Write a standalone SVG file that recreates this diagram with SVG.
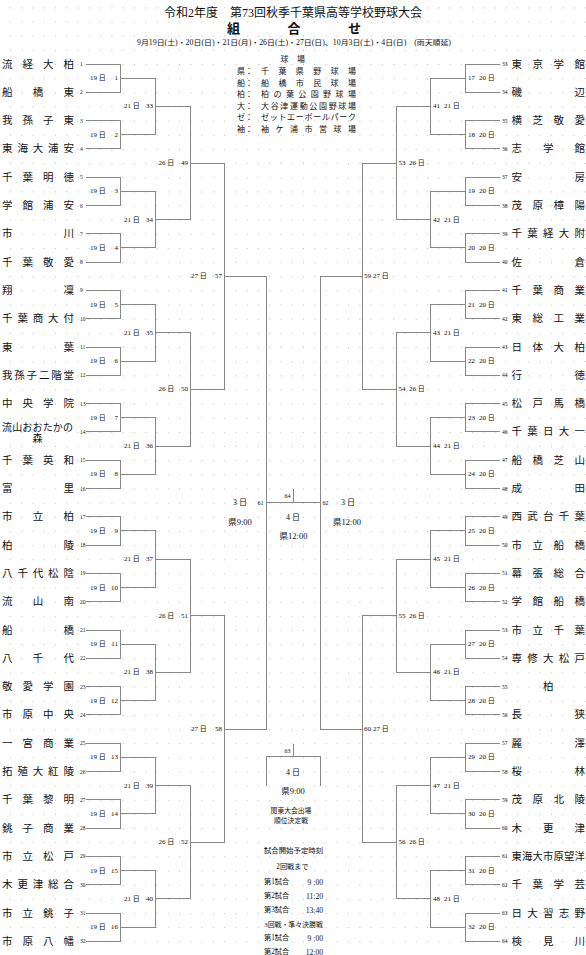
<svg xmlns="http://www.w3.org/2000/svg" width="586" height="955" viewBox="0 0 586 955">
<style>
text{font-family:"Liberation Serif","Noto Sans CJK JP",serif;dominant-baseline:central;fill:#111}
.nm{font-size:10.5px}
.tn{font-size:5.5px}
.lb{font-size:7px}
.e{text-anchor:end}
.c{text-anchor:middle}
.lg{font-size:8px}
.ln{fill:none;stroke:#888;stroke-width:1;shape-rendering:crispEdges}
</style>
<defs>
<pattern id="dots" x="10" y="7.4" width="11.27" height="14.15" patternUnits="userSpaceOnUse"><rect width="1" height="1" fill="#b8b8b8"/></pattern>
</defs>
<rect width="586" height="955" fill="#fff"/>
<rect width="586" height="955" fill="url(#dots)"/>

<g id="header">
<text class="c" x="293" y="13" style="font-size:12px">令和2年度　第73回秋季千葉県高等学校野球大会</text>
<text x="227 287.5 348" y="28" style="font-size:13px;font-weight:bold">組合せ</text>
<text x="137" y="43" textLength="314" lengthAdjust="spacingAndGlyphs" style="font-size:7.2px">9月19日(土)・20日(日)・21日(月)・26日(土)・27日(日)、10月3日(土)・4日(日)　(雨天順延)</text>
</g>

<g id="legend" class="lg">
<text class="lg" x="280.5 297" y="59.5">球場</text>
<text class="lg" x="237 245" y="71.5">県：</text><text class="lg" x="261 278.4 295.8 313.2 330.6 348" y="71.5">千葉県野球場</text>
<text class="lg" x="237 245" y="83">船：</text><text class="lg" x="261 278.4 295.8 313.2 330.6 348" y="83">船橋市民球場</text>
<text class="lg" x="237 245" y="94.5">柏：</text><text class="lg" x="261 273.4 285.9 298.3 310.7 323.1 335.6 348" y="94.5">柏の葉公園野球場</text>
<text class="lg" x="237 245" y="106">大：</text><text class="lg" x="261 270.7 280.3 290 299.7 309.3 319 328.7 338.3 348" y="106">大谷津運動公園野球場</text>
<text class="lg" x="237 245" y="117.5">ゼ：</text><text class="lg" x="261 269.7 278.4 287.1 295.8 304.5 313.2 321.9 330.6 339.3 348" y="117.5">ゼットエーボールパーク</text>
<text class="lg" x="237 245" y="129">袖：</text><text class="lg" x="261 275.5 290 304.5 319 333.5 348" y="129">袖ケ浦市営球場</text>
</g>

<g id="connectors">
<path class="ln" d="M86 64H120.5V92.3H86M86 120.6H120.5V148.9H86M86 177.2H120.5V205.5H86M86 233.8H120.5V262.1H86M86 290.4H120.5V318.7H86M86 347H120.5V375.3H86M86 403.6H120.5V431.9H86M86 460.2H120.5V488.5H86M86 516.8H120.5V545.1H86M86 573.4H120.5V601.7H86M86 630H120.5V658.3H86M86 686.6H120.5V714.9H86M86 743.2H120.5V771.5H86M86 799.8H120.5V828.1H86M86 856.4H120.5V884.7H86M86 913H120.5V941.3H86"/>
<path class="ln" d="M120.5 78.15H155.5V134.75H120.5M120.5 191.35H155.5V247.95H120.5M120.5 304.55H155.5V361.15H120.5M120.5 417.75H155.5V474.35H120.5M120.5 530.95H155.5V587.55H120.5M120.5 644.15H155.5V700.75H120.5M120.5 757.35H155.5V813.95H120.5M120.5 870.55H155.5V927.15H120.5"/>
<path class="ln" d="M155.5 106.45H190V219.65H155.5M155.5 332.85H190V446.05H155.5M155.5 559.25H190V672.45H155.5M155.5 785.65H190V898.85H155.5"/>
<path class="ln" d="M190 163.05H224V389.45H190M190 615.85H224V842.25H190"/>
<path class="ln" d="M224 276.25H266V729.05H224"/>
<path class="ln" d="M500 64H465.5V92.3H500M500 120.6H465.5V148.9H500M500 177.2H465.5V205.5H500M500 233.8H465.5V262.1H500M500 290.4H465.5V318.7H500M500 347H465.5V375.3H500M500 403.6H465.5V431.9H500M500 460.2H465.5V488.5H500M500 516.8H465.5V545.1H500M500 573.4H465.5V601.7H500M500 630H465.5V658.3H500M500 686.6H465.5V714.9H500M500 743.2H465.5V771.5H500M500 799.8H465.5V828.1H500M500 856.4H465.5V884.7H500M500 913H465.5V941.3H500"/>
<path class="ln" d="M465.5 78.15H430.5V134.75H465.5M465.5 191.35H430.5V247.95H465.5M465.5 304.55H430.5V361.15H465.5M465.5 417.75H430.5V474.35H465.5M465.5 530.95H430.5V587.55H465.5M465.5 644.15H430.5V700.75H465.5M465.5 757.35H430.5V813.95H465.5M465.5 870.55H430.5V927.15H465.5"/>
<path class="ln" d="M430.5 106.45H396V219.65H430.5M430.5 332.85H396V446.05H430.5M430.5 559.25H396V672.45H430.5M430.5 785.65H396V898.85H430.5"/>
<path class="ln" d="M396 163.05H362V389.45H396M396 615.85H362V842.25H396"/>
<path class="ln" d="M362 276.25H320V729.05H362"/>
<path class="ln" d="M266 502.65H320M293 488.5V502.65"/>
<path class="ln" d="M266 786V756.7H320V786M293 743.5V756.7"/>
</g>

<g id="teams-left">
<g id="t1"><text class="nm" x="2 22.5 43 63.5" y="64">流経大柏</text><text class="tn" x="80" y="64">1</text></g>
<g id="t2"><text class="nm" x="2 32.75 63.5" y="92.3">船橋東</text><text class="tn" x="80" y="92.3">2</text></g>
<g id="t3"><text class="nm" x="2 22.5 43 63.5" y="120.6">我孫子東</text><text class="tn" x="80" y="120.6">3</text></g>
<g id="t4"><text class="nm" x="2 17.4 32.75 48.1 63.5" y="148.9">東海大浦安</text><text class="tn" x="80" y="148.9">4</text></g>
<g id="t5"><text class="nm" x="2 22.5 43 63.5" y="177.2">千葉明徳</text><text class="tn" x="80" y="177.2">5</text></g>
<g id="t6"><text class="nm" x="2 22.5 43 63.5" y="205.5">学館浦安</text><text class="tn" x="80" y="205.5">6</text></g>
<g id="t7"><text class="nm" x="2 63.5" y="233.8">市川</text><text class="tn" x="80" y="233.8">7</text></g>
<g id="t8"><text class="nm" x="2 22.5 43 63.5" y="262.1">千葉敬愛</text><text class="tn" x="80" y="262.1">8</text></g>
<g id="t9"><text class="nm" x="2 63.5" y="290.4">翔凜</text><text class="tn" x="80" y="290.4">9</text></g>
<g id="t10"><text class="nm" x="2 17.4 32.75 48.1 63.5" y="318.7">千葉商大付</text><text class="tn" x="80" y="318.7">10</text></g>
<g id="t11"><text class="nm" x="2 63.5" y="347">東葉</text><text class="tn" x="80" y="347">11</text></g>
<g id="t12"><text class="nm" x="2 14.3 26.6 38.9 51.2 63.5" y="375.3">我孫子二階堂</text><text class="tn" x="80" y="375.3">12</text></g>
<g id="t13"><text class="nm" x="2 22.5 43 63.5" y="403.6">中央学院</text><text class="tn" x="80" y="403.6">13</text></g>
<g id="t14"><text class="nm" style="font-size:10px" x="2 12.2 22.3 32.5 42.7 52.8 63" y="427">流山おおたかの</text><text class="nm" style="font-size:10px" x="32.5" y="438.5">森</text><text class="tn" x="80" y="431.9">14</text></g>
<g id="t15"><text class="nm" x="2 22.5 43 63.5" y="460.2">千葉英和</text><text class="tn" x="80" y="460.2">15</text></g>
<g id="t16"><text class="nm" x="2 63.5" y="488.5">富里</text><text class="tn" x="80" y="488.5">16</text></g>
<g id="t17"><text class="nm" x="2 32.75 63.5" y="516.8">市立柏</text><text class="tn" x="80" y="516.8">17</text></g>
<g id="t18"><text class="nm" x="2 63.5" y="545.1">柏陵</text><text class="tn" x="80" y="545.1">18</text></g>
<g id="t19"><text class="nm" x="2 17.4 32.75 48.1 63.5" y="573.4">八千代松陰</text><text class="tn" x="80" y="573.4">19</text></g>
<g id="t20"><text class="nm" x="2 32.75 63.5" y="601.7">流山南</text><text class="tn" x="80" y="601.7">20</text></g>
<g id="t21"><text class="nm" x="2 63.5" y="630">船橋</text><text class="tn" x="80" y="630">21</text></g>
<g id="t22"><text class="nm" x="2 32.75 63.5" y="658.3">八千代</text><text class="tn" x="80" y="658.3">22</text></g>
<g id="t23"><text class="nm" x="2 22.5 43 63.5" y="686.6">敬愛学園</text><text class="tn" x="80" y="686.6">23</text></g>
<g id="t24"><text class="nm" x="2 22.5 43 63.5" y="714.9">市原中央</text><text class="tn" x="80" y="714.9">24</text></g>
<g id="t25"><text class="nm" x="2 22.5 43 63.5" y="743.2">一宮商業</text><text class="tn" x="80" y="743.2">25</text></g>
<g id="t26"><text class="nm" x="2 17.4 32.75 48.1 63.5" y="771.5">拓殖大紅陵</text><text class="tn" x="80" y="771.5">26</text></g>
<g id="t27"><text class="nm" x="2 22.5 43 63.5" y="799.8">千葉黎明</text><text class="tn" x="80" y="799.8">27</text></g>
<g id="t28"><text class="nm" x="2 22.5 43 63.5" y="828.1">銚子商業</text><text class="tn" x="80" y="828.1">28</text></g>
<g id="t29"><text class="nm" x="2 22.5 43 63.5" y="856.4">市立松戸</text><text class="tn" x="80" y="856.4">29</text></g>
<g id="t30"><text class="nm" x="2 17.4 32.75 48.1 63.5" y="884.7">木更津総合</text><text class="tn" x="80" y="884.7">30</text></g>
<g id="t31"><text class="nm" x="2 22.5 43 63.5" y="913">市立銚子</text><text class="tn" x="80" y="913">31</text></g>
<g id="t32"><text class="nm" x="2 22.5 43 63.5" y="941.3">市原八幡</text><text class="tn" x="80" y="941.3">32</text></g>
</g>

<g id="teams-right">
<g id="t33"><text class="nm" x="511.5 532.5 553.5 574.5" y="64">東京学館</text><text class="tn" x="502" y="64">33</text></g>
<g id="t34"><text class="nm" x="511.5 574.5" y="92.3">磯辺</text><text class="tn" x="502" y="92.3">34</text></g>
<g id="t35"><text class="nm" x="511.5 532.5 553.5 574.5" y="120.6">横芝敬愛</text><text class="tn" x="502" y="120.6">35</text></g>
<g id="t36"><text class="nm" x="511.5 543 574.5" y="148.9">志学館</text><text class="tn" x="502" y="148.9">36</text></g>
<g id="t37"><text class="nm" x="511.5 574.5" y="177.2">安房</text><text class="tn" x="502" y="177.2">37</text></g>
<g id="t38"><text class="nm" x="511.5 532.5 553.5 574.5" y="205.5">茂原樟陽</text><text class="tn" x="502" y="205.5">38</text></g>
<g id="t39"><text class="nm" x="511.5 527.25 543 558.75 574.5" y="233.8">千葉経大附</text><text class="tn" x="502" y="233.8">39</text></g>
<g id="t40"><text class="nm" x="511.5 574.5" y="262.1">佐倉</text><text class="tn" x="502" y="262.1">40</text></g>
<g id="t41"><text class="nm" x="511.5 532.5 553.5 574.5" y="290.4">千葉商業</text><text class="tn" x="502" y="290.4">41</text></g>
<g id="t42"><text class="nm" x="511.5 532.5 553.5 574.5" y="318.7">東総工業</text><text class="tn" x="502" y="318.7">42</text></g>
<g id="t43"><text class="nm" x="511.5 532.5 553.5 574.5" y="347">日体大柏</text><text class="tn" x="502" y="347">43</text></g>
<g id="t44"><text class="nm" x="511.5 574.5" y="375.3">行徳</text><text class="tn" x="502" y="375.3">44</text></g>
<g id="t45"><text class="nm" x="511.5 532.5 553.5 574.5" y="403.6">松戸馬橋</text><text class="tn" x="502" y="403.6">45</text></g>
<g id="t46"><text class="nm" x="511.5 527.25 543 558.75 574.5" y="431.9">千葉日大一</text><text class="tn" x="502" y="431.9">46</text></g>
<g id="t47"><text class="nm" x="511.5 532.5 553.5 574.5" y="460.2">船橋芝山</text><text class="tn" x="502" y="460.2">47</text></g>
<g id="t48"><text class="nm" x="511.5 574.5" y="488.5">成田</text><text class="tn" x="502" y="488.5">48</text></g>
<g id="t49"><text class="nm" x="511.5 527.25 543 558.75 574.5" y="516.8">西武台千葉</text><text class="tn" x="502" y="516.8">49</text></g>
<g id="t50"><text class="nm" x="511.5 532.5 553.5 574.5" y="545.1">市立船橋</text><text class="tn" x="502" y="545.1">50</text></g>
<g id="t51"><text class="nm" x="511.5 532.5 553.5 574.5" y="573.4">幕張総合</text><text class="tn" x="502" y="573.4">51</text></g>
<g id="t52"><text class="nm" x="511.5 532.5 553.5 574.5" y="601.7">学館船橋</text><text class="tn" x="502" y="601.7">52</text></g>
<g id="t53"><text class="nm" x="511.5 532.5 553.5 574.5" y="630">市立千葉</text><text class="tn" x="502" y="630">53</text></g>
<g id="t54"><text class="nm" x="511.5 527.25 543 558.75 574.5" y="658.3">専修大松戸</text><text class="tn" x="502" y="658.3">54</text></g>
<g id="t55"><text class="nm" x="543" y="686.6">柏</text><text class="tn" x="502" y="686.6">55</text></g>
<g id="t56"><text class="nm" x="511.5 574.5" y="714.9">長狭</text><text class="tn" x="502" y="714.9">56</text></g>
<g id="t57"><text class="nm" x="511.5 574.5" y="743.2">麗澤</text><text class="tn" x="502" y="743.2">57</text></g>
<g id="t58"><text class="nm" x="511.5 574.5" y="771.5">桜林</text><text class="tn" x="502" y="771.5">58</text></g>
<g id="t59"><text class="nm" x="511.5 532.5 553.5 574.5" y="799.8">茂原北陵</text><text class="tn" x="502" y="799.8">59</text></g>
<g id="t60"><text class="nm" x="511.5 543 574.5" y="828.1">木更津</text><text class="tn" x="502" y="828.1">60</text></g>
<g id="t61"><text class="nm" style="font-size:10.3px" x="511.5 522 532.5 543 553.5 564 574.5" y="856.4">東海大市原望洋</text><text class="tn" x="502" y="856.4">61</text></g>
<g id="t62"><text class="nm" x="511.5 532.5 553.5 574.5" y="884.7">千葉学芸</text><text class="tn" x="502" y="884.7">62</text></g>
<g id="t63"><text class="nm" x="511.5 527.25 543 558.75 574.5" y="913">日大習志野</text><text class="tn" x="502" y="913">63</text></g>
<g id="t64"><text class="nm" x="511.5 543 574.5" y="941.3">検見川</text><text class="tn" x="502" y="941.3">64</text></g>
</g>

<g id="matches-left">
<g id="m1"><text class="lb" x="90" y="78.15">19 日</text><text class="lb e" x="118" y="78.15">1</text></g>
<g id="m2"><text class="lb" x="90" y="134.75">19 日</text><text class="lb e" x="118" y="134.75">2</text></g>
<g id="m3"><text class="lb" x="90" y="191.35">19 日</text><text class="lb e" x="118" y="191.35">3</text></g>
<g id="m4"><text class="lb" x="90" y="247.95">19 日</text><text class="lb e" x="118" y="247.95">4</text></g>
<g id="m5"><text class="lb" x="90" y="304.55">19 日</text><text class="lb e" x="118" y="304.55">5</text></g>
<g id="m6"><text class="lb" x="90" y="361.15">19 日</text><text class="lb e" x="118" y="361.15">6</text></g>
<g id="m7"><text class="lb" x="90" y="417.75">19 日</text><text class="lb e" x="118" y="417.75">7</text></g>
<g id="m8"><text class="lb" x="90" y="474.35">19 日</text><text class="lb e" x="118" y="474.35">8</text></g>
<g id="m9"><text class="lb" x="90" y="530.95">19 日</text><text class="lb e" x="118" y="530.95">9</text></g>
<g id="m10"><text class="lb" x="90" y="587.55">19 日</text><text class="lb e" x="118" y="587.55">10</text></g>
<g id="m11"><text class="lb" x="90" y="644.15">19 日</text><text class="lb e" x="118" y="644.15">11</text></g>
<g id="m12"><text class="lb" x="90" y="700.75">19 日</text><text class="lb e" x="118" y="700.75">12</text></g>
<g id="m13"><text class="lb" x="90" y="757.35">19 日</text><text class="lb e" x="118" y="757.35">13</text></g>
<g id="m14"><text class="lb" x="90" y="813.95">19 日</text><text class="lb e" x="118" y="813.95">14</text></g>
<g id="m15"><text class="lb" x="90" y="870.55">19 日</text><text class="lb e" x="118" y="870.55">15</text></g>
<g id="m16"><text class="lb" x="90" y="927.15">19 日</text><text class="lb e" x="118" y="927.15">16</text></g>
<g id="m33"><text class="lb" x="124" y="106.45">21 日</text><text class="lb e" x="153" y="106.45">33</text></g>
<g id="m34"><text class="lb" x="124" y="219.65">21 日</text><text class="lb e" x="153" y="219.65">34</text></g>
<g id="m35"><text class="lb" x="124" y="332.85">21 日</text><text class="lb e" x="153" y="332.85">35</text></g>
<g id="m36"><text class="lb" x="124" y="446.05">21 日</text><text class="lb e" x="153" y="446.05">36</text></g>
<g id="m37"><text class="lb" x="124" y="559.25">21 日</text><text class="lb e" x="153" y="559.25">37</text></g>
<g id="m38"><text class="lb" x="124" y="672.45">21 日</text><text class="lb e" x="153" y="672.45">38</text></g>
<g id="m39"><text class="lb" x="124" y="785.65">21 日</text><text class="lb e" x="153" y="785.65">39</text></g>
<g id="m40"><text class="lb" x="124" y="898.85">21 日</text><text class="lb e" x="153" y="898.85">40</text></g>
<g id="m49"><text class="lb" x="158.5" y="163.05">26 日</text><text class="lb e" x="188" y="163.05">49</text></g>
<g id="m50"><text class="lb" x="158.5" y="389.45">26 日</text><text class="lb e" x="188" y="389.45">50</text></g>
<g id="m51"><text class="lb" x="158.5" y="615.85">26 日</text><text class="lb e" x="188" y="615.85">51</text></g>
<g id="m52"><text class="lb" x="158.5" y="842.25">26 日</text><text class="lb e" x="188" y="842.25">52</text></g>
<g id="m57"><text class="lb" x="191" y="276.25">27 日</text><text class="lb e" x="222" y="276.25">57</text></g>
<g id="m58"><text class="lb" x="191" y="729.05">27 日</text><text class="lb e" x="222" y="729.05">58</text></g>
</g>

<g id="matches-right">
<g id="m17"><text class="lb" x="468" y="78.15">17</text><text class="lb" x="479" y="78.15">20 日</text></g>
<g id="m18"><text class="lb" x="468" y="134.75">18</text><text class="lb" x="479" y="134.75">20 日</text></g>
<g id="m19"><text class="lb" x="468" y="191.35">19</text><text class="lb" x="479" y="191.35">20 日</text></g>
<g id="m20"><text class="lb" x="468" y="247.95">20</text><text class="lb" x="479" y="247.95">20 日</text></g>
<g id="m21"><text class="lb" x="468" y="304.55">21</text><text class="lb" x="479" y="304.55">20 日</text></g>
<g id="m22"><text class="lb" x="468" y="361.15">22</text><text class="lb" x="479" y="361.15">20 日</text></g>
<g id="m23"><text class="lb" x="468" y="417.75">23</text><text class="lb" x="479" y="417.75">20 日</text></g>
<g id="m24"><text class="lb" x="468" y="474.35">24</text><text class="lb" x="479" y="474.35">20 日</text></g>
<g id="m25"><text class="lb" x="468" y="530.95">25</text><text class="lb" x="479" y="530.95">20 日</text></g>
<g id="m26"><text class="lb" x="468" y="587.55">26</text><text class="lb" x="479" y="587.55">20 日</text></g>
<g id="m27"><text class="lb" x="468" y="644.15">27</text><text class="lb" x="479" y="644.15">20 日</text></g>
<g id="m28"><text class="lb" x="468" y="700.75">28</text><text class="lb" x="479" y="700.75">20 日</text></g>
<g id="m29"><text class="lb" x="468" y="757.35">29</text><text class="lb" x="479" y="757.35">20 日</text></g>
<g id="m30"><text class="lb" x="468" y="813.95">30</text><text class="lb" x="479" y="813.95">20 日</text></g>
<g id="m31"><text class="lb" x="468" y="870.55">31</text><text class="lb" x="479" y="870.55">20 日</text></g>
<g id="m32"><text class="lb" x="468" y="927.15">32</text><text class="lb" x="479" y="927.15">20 日</text></g>
<g id="m41"><text class="lb" x="433" y="106.45">41</text><text class="lb" x="444" y="106.45">21 日</text></g>
<g id="m42"><text class="lb" x="433" y="219.65">42</text><text class="lb" x="444" y="219.65">21 日</text></g>
<g id="m43"><text class="lb" x="433" y="332.85">43</text><text class="lb" x="444" y="332.85">21 日</text></g>
<g id="m44"><text class="lb" x="433" y="446.05">44</text><text class="lb" x="444" y="446.05">21 日</text></g>
<g id="m45"><text class="lb" x="433" y="559.25">45</text><text class="lb" x="444" y="559.25">21 日</text></g>
<g id="m46"><text class="lb" x="433" y="672.45">46</text><text class="lb" x="444" y="672.45">21 日</text></g>
<g id="m47"><text class="lb" x="433" y="785.65">47</text><text class="lb" x="444" y="785.65">21 日</text></g>
<g id="m48"><text class="lb" x="433" y="898.85">48</text><text class="lb" x="444" y="898.85">21 日</text></g>
<g id="m53"><text class="lb" x="398.5" y="163.05">53</text><text class="lb" x="409" y="163.05">26 日</text></g>
<g id="m54"><text class="lb" x="398.5" y="389.45">54</text><text class="lb" x="409" y="389.45">26 日</text></g>
<g id="m55"><text class="lb" x="398.5" y="615.85">55</text><text class="lb" x="409" y="615.85">26 日</text></g>
<g id="m56"><text class="lb" x="398.5" y="842.25">56</text><text class="lb" x="409" y="842.25">26 日</text></g>
<g id="m59"><text class="lb" x="364" y="276.25">59</text><text class="lb" x="373" y="276.25">27 日</text></g>
<g id="m60"><text class="lb" x="364" y="729.05">60</text><text class="lb" x="373" y="729.05">27 日</text></g>
</g>

<g id="m61"><text class="e" style="font-size:6px" x="263.5" y="502.65">61</text><text x="233" y="502.65" style="font-size:8px">3 日</text><text class="c" x="240" y="522" style="font-size:8.5px">県9:00</text></g>
<g id="m62"><text style="font-size:6px" x="322.5" y="502.65">62</text><text x="341" y="502.65" style="font-size:8px">3 日</text><text class="c" x="347" y="522" style="font-size:8.5px">県12:00</text></g>
<g id="m64"><text class="e" style="font-size:6px" x="290.5" y="495.5">64</text><text class="c" x="293" y="517" style="font-size:8px">4 日</text><text class="c" x="293.5" y="536" style="font-size:8.5px">県12:00</text></g>
<g id="m63"><text class="e" style="font-size:6px" x="290.5" y="751">63</text><text class="c" x="293" y="772" style="font-size:8px">4 日</text><text class="c" x="293" y="791" style="font-size:8.5px">県9:00</text>
<text class="c" x="291" y="810.5" style="font-size:6.8px">関東大会出場</text><text class="c" x="291" y="820" style="font-size:6.8px">順位決定戦</text></g>

<g id="schedule">
<text class="c" x="293.5" y="850" style="font-size:7.4px">試合開始予定時刻</text>
<text class="c" x="292.5" y="867" style="font-size:7.2px">2回戦まで</text>
<text x="264" y="882" style="font-size:7.2px">第1試合</text><text class="e" x="323" y="882" style="font-size:7.6px">9 :00</text>
<text x="264" y="896" style="font-size:7.2px">第2試合</text><text class="e" x="323" y="896" style="font-size:7.6px">11:20</text>
<text x="264" y="910" style="font-size:7.2px">第3試合</text><text class="e" x="323" y="910" style="font-size:7.6px">13:40</text>
<text class="c" x="293.5" y="924" style="font-size:6.9px">3回戦・準々決勝戦</text>
<text x="264" y="938" style="font-size:7.2px">第1試合</text><text class="e" x="323" y="938" style="font-size:7.6px">9 :00</text>
<text x="264" y="952" style="font-size:7.2px">第2試合</text><text class="e" x="323" y="952" style="font-size:7.6px">12:00</text>
</g>
</svg>
